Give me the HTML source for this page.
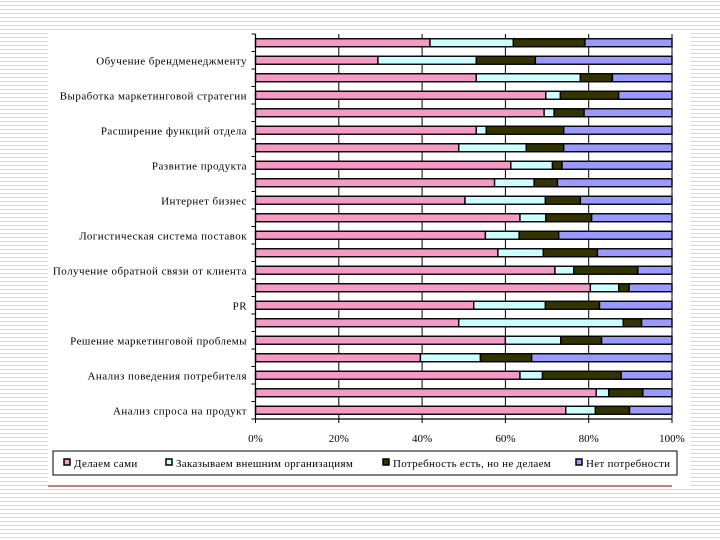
<!DOCTYPE html>
<html><head><meta charset="utf-8">
<style>
html,body{margin:0;padding:0;width:720px;height:540px;overflow:hidden;}
body{background:repeating-linear-gradient(to bottom,#fff 0,#fff 1px,#d8d8d8 1px,#d8d8d8 2px,#fff 2px,#fff 4px);}
</style></head>
<body>
<svg width="720" height="540" style="position:absolute;left:0;top:0">
<rect x="48" y="30" width="642" height="458" fill="#fff"/>
<line x1="48" y1="486" x2="672" y2="486" stroke="#a03030" stroke-width="1.2"/>
<g id="plot"></g>
</svg>
<script>
const categories=["","Обучение брендменеджменту","","Выработка маркетинговой стратегии","","Расширение функций отдела","","Развитие продукта","","Интернет бизнес","","Логистическая система поставок","","Получение обратной связи от клиента","","PR","","Решение маркетинговой проблемы","","Анализ поведения потребителя","","Анализ спроса на продукт"];
const seriesNames=["Делаем сами","Заказываем внешним организациям","Потребность есть, но не делаем","Нет потребности"];
const selfDo=[41.9,29.4,53.0,69.7,69.3,53.0,48.8,61.3,57.4,50.3,63.5,55.2,58.2,71.9,80.4,52.4,48.8,60.0,39.6,63.5,81.8,74.5];
const outsource=[20.0,23.6,25.0,3.5,2.4,2.4,16.2,10.0,9.5,19.3,6.2,8.1,10.9,4.5,6.8,17.2,39.5,13.3,14.4,5.4,3.0,7.1];
const needNotDo=[17.2,14.2,7.7,14.0,7.2,18.6,9.0,2.3,5.6,8.4,11.0,9.5,13.0,15.4,2.5,13.0,4.4,9.8,12.3,18.9,8.2,8.2];
const noNeed=[20.9,32.8,14.3,12.8,21.1,26.0,26.0,26.4,27.5,22.0,19.3,27.2,17.9,8.2,10.3,17.4,7.3,16.9,33.7,12.2,7.0,10.2];
const xTicks=[0,20,40,60,80,100];
const colors=["#f59ac4","#ccffff","#333300","#9999ff"];
const NS="http://www.w3.org/2000/svg";
const g=document.getElementById('plot');
const X0=255.5,X1=672,Y0=34,Y1=419;
const xs=v=>X0+(X1-X0)*v/100;
const band=(Y1-Y0)/categories.length;
const yc=i=>Y0+band*(i+0.5);
function mk(t,a){const e=document.createElementNS(NS,t);for(const k in a)e.setAttribute(k,a[k]);g.appendChild(e);return e;}
xTicks.forEach(t=>{if(t>0){const l=mk('line',{x1:xs(t),x2:xs(t),y1:Y0,y2:Y1,stroke:'#000','stroke-width':1});

}});
const series=[selfDo,outsource,needNotDo,noNeed];
categories.forEach((c,i)=>{
  let acc=0;
  series.forEach((s,k)=>{
    const v=s[i];
    const r=mk('rect',{x:xs(acc),y:yc(i)-4,width:xs(acc+v)-xs(acc),height:8,fill:colors[k],stroke:'#000','stroke-width':1.4});
    
    
    acc+=v;
  });
  if(c){const t=mk('text',{x:247,y:yc(i)+4,'text-anchor':'end','font-family':'Liberation Serif, serif','font-size':'11','letter-spacing':'0.45'});t.textContent=c;
  
  }
});
const ya=mk('line',{x1:X0,x2:X0,y1:Y0,y2:Y1,stroke:'#000','stroke-width':1.2});


const xa=mk('line',{x1:X0,x2:X1,y1:Y1,y2:Y1,stroke:'#000','stroke-width':1.2});


for(let i=0;i<=categories.length;i++){const l=mk('line',{x1:X0-4,x2:X0,y1:Y0+band*i,y2:Y0+band*i,stroke:'#000'});

}
xTicks.forEach(t=>{
  const l=mk('line',{x1:xs(t),x2:xs(t),y1:Y1,y2:Y1+4,stroke:'#000'});
  
  
  const tx=mk('text',{x:xs(t),y:442,'text-anchor':'middle','font-family':'Liberation Serif, serif','font-size':'11'});
  tx.textContent=t+'%';
  
  
});
const lb=mk('rect',{x:53,y:451,width:624,height:24,fill:'#fff',stroke:'#000','stroke-width':1});


const lx=[64,166,383,576];
seriesNames.forEach((n,k)=>{
  const s=mk('rect',{x:lx[k],y:459,width:6,height:6,fill:colors[k],stroke:'#000','stroke-width':1.5});
  
  
  const t=mk('text',{x:lx[k]+10,y:467,'font-family':'Liberation Serif, serif','font-size':'11','letter-spacing':'0.3'});
  t.textContent=n;
  
  
});
</script>
</body></html>
